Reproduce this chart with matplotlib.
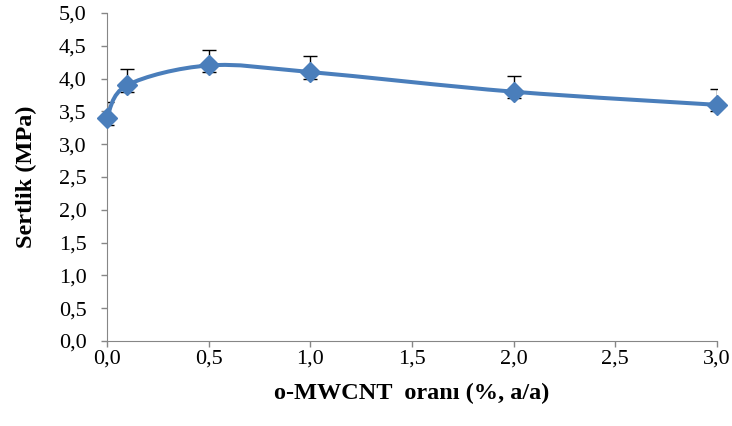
import matplotlib.pyplot as plt
from matplotlib.path import Path
from matplotlib.patches import PathPatch

x = [0.0, 0.1, 0.5, 1.0, 2.0, 3.0]
y = [3.4, 3.9, 4.2, 4.1, 3.8, 3.6]
err_up = [0.24, 0.24, 0.24, 0.24, 0.24, 0.24]
err_down = [0.1, 0.1, 0.1, 0.1, 0.1, 0.1]

y_ticks = [0.0, 0.5, 1.0, 1.5, 2.0, 2.5, 3.0, 3.5, 4.0, 4.5, 5.0]
x_ticks = [0.0, 0.5, 1.0, 1.5, 2.0, 2.5, 3.0]

blue = "#4a7ebb"
grey = "#868686"


def smooth_path(px, py):
    # excel-like smoothed line: bezier segments through the points
    pts = list(zip(px, py))
    n = len(pts)
    verts = [pts[0]]
    codes = [Path.MOVETO]
    for i in range(n - 1):
        p0 = pts[i - 1] if i > 0 else pts[i]
        p1 = pts[i]
        p2 = pts[i + 1]
        p3 = pts[i + 2] if i + 2 < n else pts[i + 1]
        c1 = (p1[0] + (p2[0] - p0[0]) / 6, p1[1] + (p2[1] - p0[1]) / 6)
        c2 = (p2[0] - (p3[0] - p1[0]) / 6, p2[1] - (p3[1] - p1[1]) / 6)
        verts += [c1, c2, p2]
        codes += [Path.CURVE4] * 3
    return Path(verts, codes)


plt.rcParams["font.family"] = ["Liberation Serif", "DejaVu Serif"]

fig = plt.figure(figsize=(7.32, 4.26), dpi=100)
ax = fig.add_axes([0.146, 0.1995, 0.8335, 0.77])

ax.add_patch(PathPatch(smooth_path(x, y), fill=False, edgecolor=blue, lw=2.9, zorder=2))
ax.errorbar(x, y, yerr=[err_down, err_up], fmt="none", ecolor="black",
            elinewidth=1, capsize=5, capthick=1, zorder=1)
ax.plot(x, y, "D", color=blue, ms=10, zorder=3, clip_on=False)

ax.set_xlim(0, 3)
ax.set_ylim(0, 5)
ax.set_xticks(x_ticks)
ax.set_yticks(y_ticks)
ax.set_xticklabels([f"{v:.1f}".replace(".", ",") for v in x_ticks])
ax.set_yticklabels([f"{v:.1f}".replace(".", ",") for v in y_ticks])
ax.tick_params(labelsize=16, color=grey, length=4.5, width=1)
ax.tick_params(axis="y", pad=10)
ax.tick_params(axis="x", pad=2)

for s in ["top", "right"]:
    ax.spines[s].set_visible(False)
for s in ["left", "bottom"]:
    ax.spines[s].set_color(grey)

ax.set_xlabel("o-MWCNT  oranı (%, a/a)", fontsize=17.5, fontweight="bold", labelpad=10)
ax.set_ylabel("Sertlik (MPa)", fontsize=17.5, fontweight="bold", labelpad=16)

fig.savefig("out.png", dpi=100)
